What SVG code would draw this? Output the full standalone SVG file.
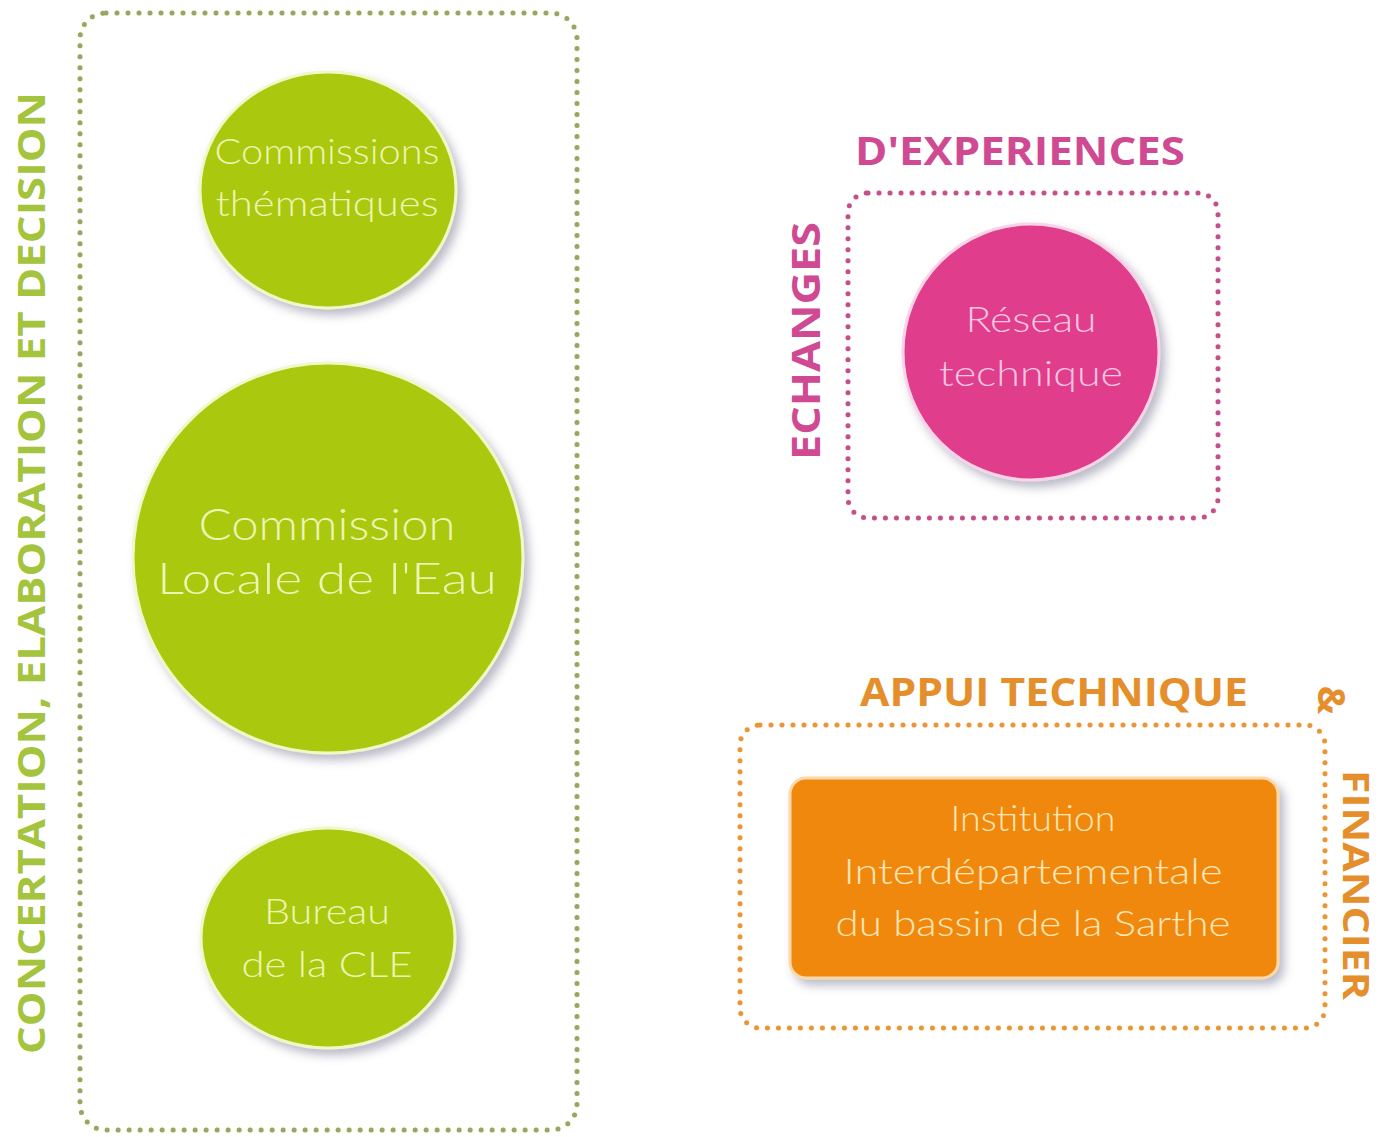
<svg xmlns="http://www.w3.org/2000/svg" width="1381" height="1137" viewBox="0 0 1381 1137">
<style>
.dots{fill:none;stroke-width:5;stroke-linecap:round;stroke-dasharray:0 11}
.title{font-family:"Open Sans","Liberation Sans",sans-serif;font-weight:700}
.lbl{font-family:"Lato","Open Sans","Liberation Sans",sans-serif;font-weight:300;text-anchor:middle}
</style>
<defs>
<filter id="sh" x="-20%" y="-20%" width="150%" height="150%">
<feDropShadow dx="5" dy="6" stdDeviation="5" flood-color="#6a6a8a" flood-opacity="0.45"/>
</filter>
<filter id="glow" x="-5%" y="-5%" width="110%" height="110%">
<feGaussianBlur stdDeviation="1.2"/>
</filter>
</defs>
<rect width="1381" height="1137" fill="#ffffff"/>

<g id="group-concertation">
<rect x="80" y="13" width="497" height="1117" rx="26" class="dots" stroke="#eef5b0" stroke-width="9" filter="url(#glow)"/>
<rect x="80" y="13" width="497" height="1117" rx="26" class="dots" stroke="#98a46a"/>
<text class="title" transform="translate(45,573) rotate(-90)" text-anchor="middle" font-size="38" fill="#a3c43c" textLength="962" lengthAdjust="spacingAndGlyphs">CONCERTATION, ELABORATION ET DECISION</text>
</g>

<g id="node-commissions">
<ellipse cx="328" cy="190" rx="128" ry="118" fill="#aac80c" stroke="#f2f7c8" stroke-width="3" filter="url(#sh)"/>
<text class="lbl" font-size="36" fill="#eef4b4"><tspan x="327" y="164" textLength="225" lengthAdjust="spacingAndGlyphs">Commissions</tspan><tspan x="327" y="216" textLength="223" lengthAdjust="spacingAndGlyphs">thématiques</tspan></text>
</g>

<g id="node-cle">
<circle cx="328" cy="558" r="195" fill="#aac80c" stroke="#f2f7c8" stroke-width="3" filter="url(#sh)"/>
<text class="lbl" font-size="44" fill="#eef4b4"><tspan x="327" y="540" textLength="257" lengthAdjust="spacingAndGlyphs">Commission</tspan><tspan x="327" y="594" textLength="340" lengthAdjust="spacingAndGlyphs">Locale de l'Eau</tspan></text>
</g>

<g id="node-bureau">
<ellipse cx="328" cy="938" rx="127" ry="110" fill="#aac80c" stroke="#f2f7c8" stroke-width="3" filter="url(#sh)"/>
<text class="lbl" font-size="36" fill="#eef4b4"><tspan x="327" y="924" textLength="126" lengthAdjust="spacingAndGlyphs">Bureau</tspan><tspan x="327" y="977" textLength="171" lengthAdjust="spacingAndGlyphs">de la CLE</tspan></text>
</g>

<g id="group-echanges">
<rect x="848" y="193" width="370" height="325" rx="20" class="dots" stroke="#fbe0ee" stroke-width="9" filter="url(#glow)"/>
<rect x="848" y="193" width="370" height="325" rx="20" class="dots" stroke="#c2508a"/>
<text class="title" x="1020" y="165" text-anchor="middle" font-size="40" fill="#cf4a92" textLength="330" lengthAdjust="spacingAndGlyphs">D'EXPERIENCES</text>
<text class="title" transform="translate(820,341) rotate(-90)" text-anchor="middle" font-size="40" fill="#cf4a92" textLength="238" lengthAdjust="spacingAndGlyphs">ECHANGES</text>
</g>

<g id="node-reseau">
<circle cx="1031" cy="352" r="128" fill="#e03c8c" stroke="#f9d4e6" stroke-width="3" filter="url(#sh)"/>
<text class="lbl" font-size="36" fill="#f8c6e0"><tspan x="1031" y="332" textLength="131" lengthAdjust="spacingAndGlyphs">Réseau</tspan><tspan x="1031" y="386" textLength="184" lengthAdjust="spacingAndGlyphs">technique</tspan></text>
</g>

<g id="group-appui">
<rect x="740" y="725" width="585" height="303" rx="20" class="dots" stroke="#fdebd2" stroke-width="9" filter="url(#glow)"/>
<rect x="740" y="725" width="585" height="303" rx="20" class="dots" stroke="#e8963a"/>
<text class="title" x="1054" y="706" text-anchor="middle" font-size="40" fill="#e58f2c" textLength="388" lengthAdjust="spacingAndGlyphs">APPUI TECHNIQUE</text>
<text class="title" transform="translate(1318,700) rotate(90)" text-anchor="middle" font-size="38" fill="#e58f2c">&amp;</text>
<text class="title" transform="translate(1343,885) rotate(90)" text-anchor="middle" font-size="35" fill="#e58f2c" textLength="230" lengthAdjust="spacingAndGlyphs">FINANCIER</text>
</g>

<g id="node-institution">
<rect x="790" y="778" width="488" height="200" rx="16" fill="#f0880e" stroke="#fbd9a8" stroke-width="3" filter="url(#sh)"/>
<text class="lbl" font-size="35" fill="#fde6b6"><tspan x="1033" y="831" textLength="165" lengthAdjust="spacingAndGlyphs">Institution</tspan><tspan x="1033" y="884" textLength="379" lengthAdjust="spacingAndGlyphs">Interdépartementale</tspan><tspan x="1033" y="936" textLength="395" lengthAdjust="spacingAndGlyphs">du bassin de la Sarthe</tspan></text>
</g>

<g id="connectors"></g>
</svg>
